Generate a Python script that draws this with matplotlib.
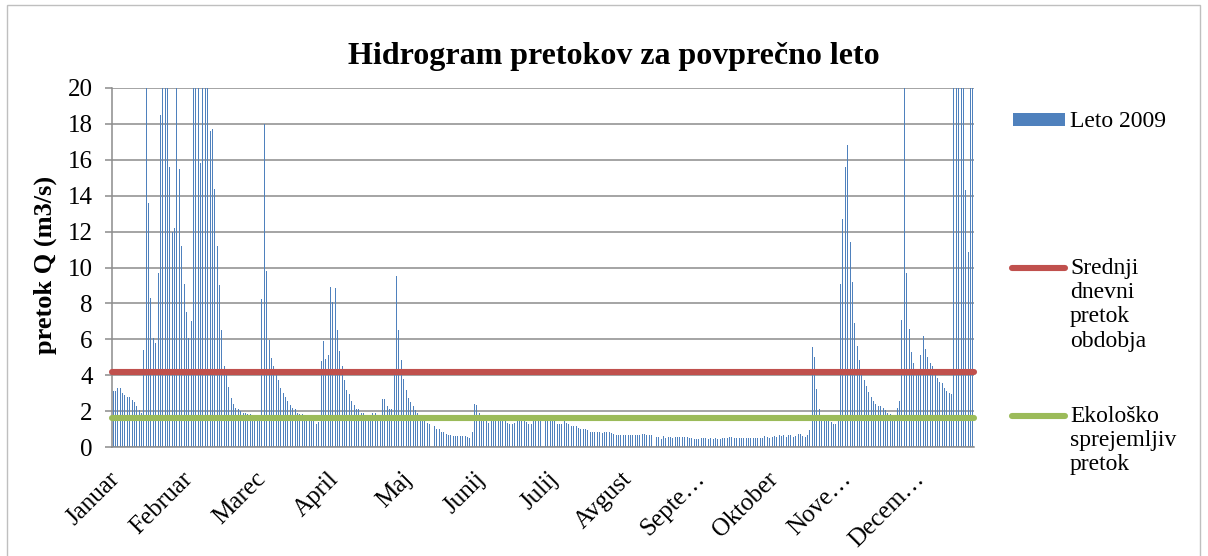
import matplotlib
matplotlib.use("Agg")
import matplotlib.pyplot as plt
import matplotlib.transforms as mtransforms
from matplotlib.lines import Line2D
from matplotlib.patches import Rectangle
import numpy as np

# ---------------- data ----------------
series_label = "Leto 2009"
mean_label = "Srednji\ndnevni\npretok\nobdobja"
eco_label = "Ekološko\nsprejemljiv\npretok"

month_labels = ["Januar", "Februar", "Marec", "April", "Maj", "Junij",
                "Julij", "Avgust", "Septe…", "Oktober", "Nove…", "Decem…"]
label_step = 31

mean_flow = 4.17   # srednji dnevni pretok obdobja
eco_flow = 1.64    # ekološko sprejemljiv pretok

daily_flow = [
    # Jan - early Mar
    3.1, 3.1, 3.3, 3.3, 3.0, 2.9, 2.8, 2.8, 2.6, 2.5,
    2.3, 2.05, 1.9, 5.4, 24, 13.6, 8.3, 6.1, 5.8, 9.7,
    18.5, 26, 28, 22, 15.6, 12.0, 12.2, 25, 15.5, 11.2,
    9.1, 7.5, 6.1, 7.0, 24, 30, 27, 15.8, 23, 29,
    25, 17.6, 17.7, 14.4, 11.2, 9.0, 6.5, 4.5, 4.0, 3.35,
    2.75, 2.4, 2.2, 2.1, 2.0, 1.9, 1.9, 1.85, 1.85, 1.8,
    1.8, 1.8, 1.8,
    # Mar - May
    8.25, 18.0, 9.8, 5.95, 4.95, 4.5, 4.0, 3.75, 3.3, 3.0,
    2.8, 2.55, 2.35, 2.2, 2.1, 1.9, 1.85, 1.85, 1.8, 1.75,
    1.75, 1.7, 1.7, 1.27, 1.4, 4.8, 5.9, 4.9, 5.1, 8.9,
    8.1, 8.85, 6.5, 5.35, 4.5, 3.75, 3.2, 2.95, 2.55, 2.35,
    2.1, 2.1, 1.9, 1.9, 1.7, 1.8, 1.8, 1.9, 1.9, 1.7,
    1.7, 2.7, 2.7, 2.3, 2.1, 2.1, 4.0, 9.5, 6.5,
    # May - Jul
    4.85, 3.8, 3.16, 2.73, 2.5, 2.27, 2.08, 1.9, 1.75, 1.7,
    1.6, 1.34, 1.3, 1.19, 1.15, 1.0, 1.0, 0.85, 0.85, 0.72,
    0.69, 0.69, 0.63, 0.63, 0.6, 0.63, 0.63, 0.6, 0.56, 0.5,
    0.82, 2.41, 2.36, 1.9, 1.75, 1.6, 1.55, 1.34, 1.55, 1.6,
    1.6, 1.6, 1.6, 1.6, 1.6, 1.34, 1.3, 1.3, 1.34, 1.43,
    1.49, 1.52, 1.43, 1.4, 1.3, 1.3, 1.43, 1.5, 1.55, 1.55,
    1.55,
    # Jul - Sep
    1.52, 1.55, 1.55, 1.55, 1.49, 1.3, 1.3, 1.3, 1.49, 1.34,
    1.3, 1.15, 1.15, 1.15, 1.06, 1.0, 1.0, 1.0, 0.93, 0.84,
    0.84, 0.84, 0.84, 0.84, 0.78, 0.84, 0.82, 0.84, 0.78, 0.74,
    0.69, 0.69, 0.69, 0.69, 0.69, 0.69, 0.69, 0.69, 0.69, 0.69,
    0.69, 0.74, 0.72, 0.69, 0.69, 0.69, 0.58, 0.56, 0.54, 0.46,
    0.6, 0.5, 0.56, 0.56, 0.5, 0.56, 0.56, 0.56, 0.56, 0.56,
    0.56,
    # Sep - Oct
    0.52, 0.52, 0.43, 0.43, 0.43, 0.52, 0.52, 0.52, 0.43, 0.48,
    0.46, 0.48, 0.46, 0.43, 0.52, 0.52, 0.52, 0.56, 0.56, 0.52,
    0.52, 0.52, 0.52, 0.52, 0.52, 0.52, 0.52, 0.52, 0.52, 0.52,
    0.52, 0.52, 0.6, 0.56, 0.52, 0.56, 0.6, 0.56, 0.67, 0.6,
    0.67, 0.56, 0.67, 0.67, 0.56, 0.62, 0.74, 0.7, 0.6, 0.56,
    0.67,
    # late Oct - early Nov
    0.97, 5.55, 5.0, 3.22, 2.1, 1.65, 1.5, 1.45, 1.45, 1.4,
    1.27, 1.27, 1.45,
    # Nov - Dec
    9.1, 12.7, 15.6, 16.85, 11.4, 9.2, 6.9, 5.6, 4.86, 4.1,
    3.74, 3.4, 3.04, 2.8, 2.57, 2.42, 2.29, 2.29, 2.2, 2.05,
    1.92, 1.86, 1.7, 1.7, 2.16, 2.57, 7.1, 24, 9.7, 6.6,
    5.3, 4.7, 4.1, 4.1, 5.1, 6.2, 5.45, 5.0, 4.67, 4.5,
    4.1, 3.87, 3.63, 3.54, 3.3, 3.1, 3.03, 2.98, 25, 28,
    30, 26, 22, 14.3, 10.86, 24, 27,
]

# ---------------- style ----------------
plt.rcParams['font.family'] = ['Liberation Serif', 'DejaVu Serif']
blue = '#4F81BD'
red = '#C0504D'
green = '#9BBB59'
grid_c = '#8C8C8C'

W, H = 1208, 556
fig = plt.figure(figsize=(W / 100, H / 100), dpi=100)
ax = fig.add_axes([112 / W, 1 - 447 / H, (974 - 112) / W, (447 - 88) / H])

n = len(daily_flow)
x = np.arange(n)
ax.bar(x, daily_flow, width=0.42, color=blue, linewidth=0, zorder=2)

# reference lines
ax.plot([-0.5, n - 0.5], [mean_flow, mean_flow], color=red, lw=4.4,
        solid_capstyle='round', zorder=3, clip_on=False)
ax.plot([-0.5, n - 0.5], [eco_flow, eco_flow], color=green, lw=4.4,
        solid_capstyle='round', zorder=3, clip_on=False)

ax.set_xlim(-0.5, n - 0.5)
ax.set_ylim(0, 20)
ax.set_yticks(np.arange(0, 21, 2))
ax.yaxis.grid(True, color=grid_c, lw=1.1, zorder=0)
ax.set_axisbelow(True)

tick_pos = np.arange(0, n, label_step)[:len(month_labels)]
ax.set_xticks(tick_pos)
ax.set_xticklabels(month_labels[:len(tick_pos)], rotation=45, ha='right',
                   va='top', rotation_mode='anchor', fontsize=18)
ax.tick_params(axis='x', length=0, pad=15)
ax.tick_params(axis='y', length=5, width=1.1, color=grid_c, pad=9,
               labelsize=18, direction='out')
shift = mtransforms.ScaledTranslation(-0.05, 0, fig.dpi_scale_trans)
for lbl in ax.get_xticklabels():
    lbl.set_transform(lbl.get_transform() + shift)

for s in ['top', 'right']:
    ax.spines[s].set_visible(False)
for s in ['left', 'bottom']:
    ax.spines[s].set_color(grid_c)
    ax.spines[s].set_linewidth(1.1)

# title and axis label
fig.text(614 / W, 1 - 64 / H, "Hidrogram pretokov za povprečno leto",
         ha='center', va='baseline', fontsize=23, fontweight='bold')
fig.text(45 / W, 1 - 265 / H, "pretok Q (m3/s)", rotation=90,
         ha='center', va='center', fontsize=19, fontweight='bold')

# legend (manual, right side)
fig.add_artist(Rectangle((1013 / W, 1 - 126 / H), 52 / W, 13 / H,
                         transform=fig.transFigure, color=blue, lw=0))
fig.text(1070 / W, 1 - 127 / H, series_label, ha='left', va='baseline',
         fontsize=17)
fig.add_artist(Line2D([1012 / W, 1065 / W], [1 - 268 / H, 1 - 268 / H],
                      transform=fig.transFigure, color=red, lw=4.4,
                      solid_capstyle='round'))
fig.text(1070 / W, 1 - 258 / H, mean_label, ha='left', va='top',
         fontsize=17, linespacing=1.2)
fig.add_artist(Line2D([1012 / W, 1065 / W], [1 - 416 / H, 1 - 416 / H],
                      transform=fig.transFigure, color=green, lw=4.4,
                      solid_capstyle='round'))
fig.text(1070 / W, 1 - 406 / H, eco_label, ha='left', va='top',
         fontsize=17, linespacing=1.2)

# chart border
fig.add_artist(Rectangle((7 / W, -0.01), (1200 - 7) / W, 1.01 - 5 / H,
                         transform=fig.transFigure, fill=False,
                         edgecolor='#BFBFBF', lw=1))

fig.savefig('out.png', dpi=100)
